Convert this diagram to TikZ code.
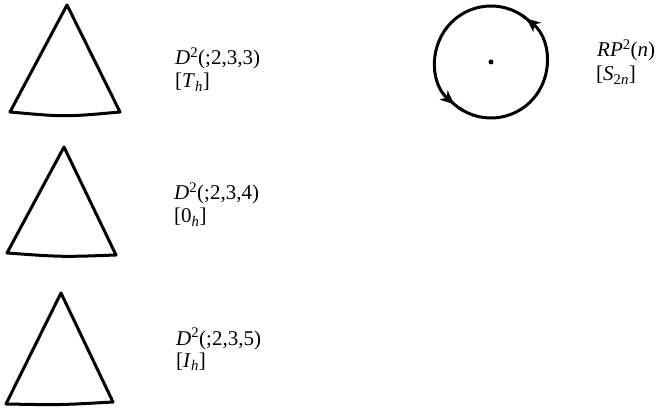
\documentclass[tikz,border=0pt]{standalone}
\usepackage{fontspec}
\setmainfont{Liberation Serif}
\usetikzlibrary{arrows.meta}
\tikzset{
  hand/.style={line width=3pt, line join=round, line cap=round},
  tip/.style={-{Stealth[length=14pt, width=12pt, inset=4pt]}},
  lbl/.style={anchor=base west, inner sep=0pt, font=\fontsize{21}{24}\selectfont},
}

\begin{document}
\begin{tikzpicture}[x=1pt, y=-1pt]
    \useasboundingbox (0,0) rectangle (663,411);
    % triangles
    \draw[hand] (67,5) -- (120,112) .. controls (65,117) .. (10,112) -- cycle;
    \draw[hand] (64,147) -- (116,255) .. controls (62,257) .. (7,253) -- cycle;
    \draw[hand] (61,293) -- (113,402) .. controls (60,405) .. (6,404) -- cycle;
    % labels
    \node[lbl] (da) at (175,65) {\textit{D}\textsuperscript{2}(;2,3,3)};
    \node[lbl] (ga) at (175,88) {[\textit{T}\textsubscript{\textit{h}}]};
    \node[lbl] (db) at (174,200) {\textit{D}\textsuperscript{2}(;2,3,4)};
    \node[lbl] (gb) at (174,223) {[0\textsubscript{\textit{h}}]};
    \node[lbl] (dc) at (176,345) {\textit{D}\textsuperscript{2}(;2,3,5)};
    \node[lbl] (gc) at (176,367) {[\textit{I}\textsubscript{\textit{h}}]};
    % disc with antipodal boundary
    \coordinate (o) at (491,62);
    \fill (o) circle (2.5pt);
    \draw[hand, tip] ([shift={(-235:56)}]o) arc (-235:-411:56);
    \draw[hand, tip] ([shift={(-51:56)}]o) arc (-51:-229:56);
    \draw[hand] ([shift={(-225:56)}]o) arc (-225:-240:56);
    \draw[hand] ([shift={(-41:56)}]o) arc (-41:-56:56);
    \node[lbl] (rp) at (597,57) {\textit{RP}\textsuperscript{2}(\textit{n})};
    \node[lbl] (sg) at (596,81) {[\textit{S}\textsubscript{2\textit{n}}]};
\end{tikzpicture}
\end{document}
